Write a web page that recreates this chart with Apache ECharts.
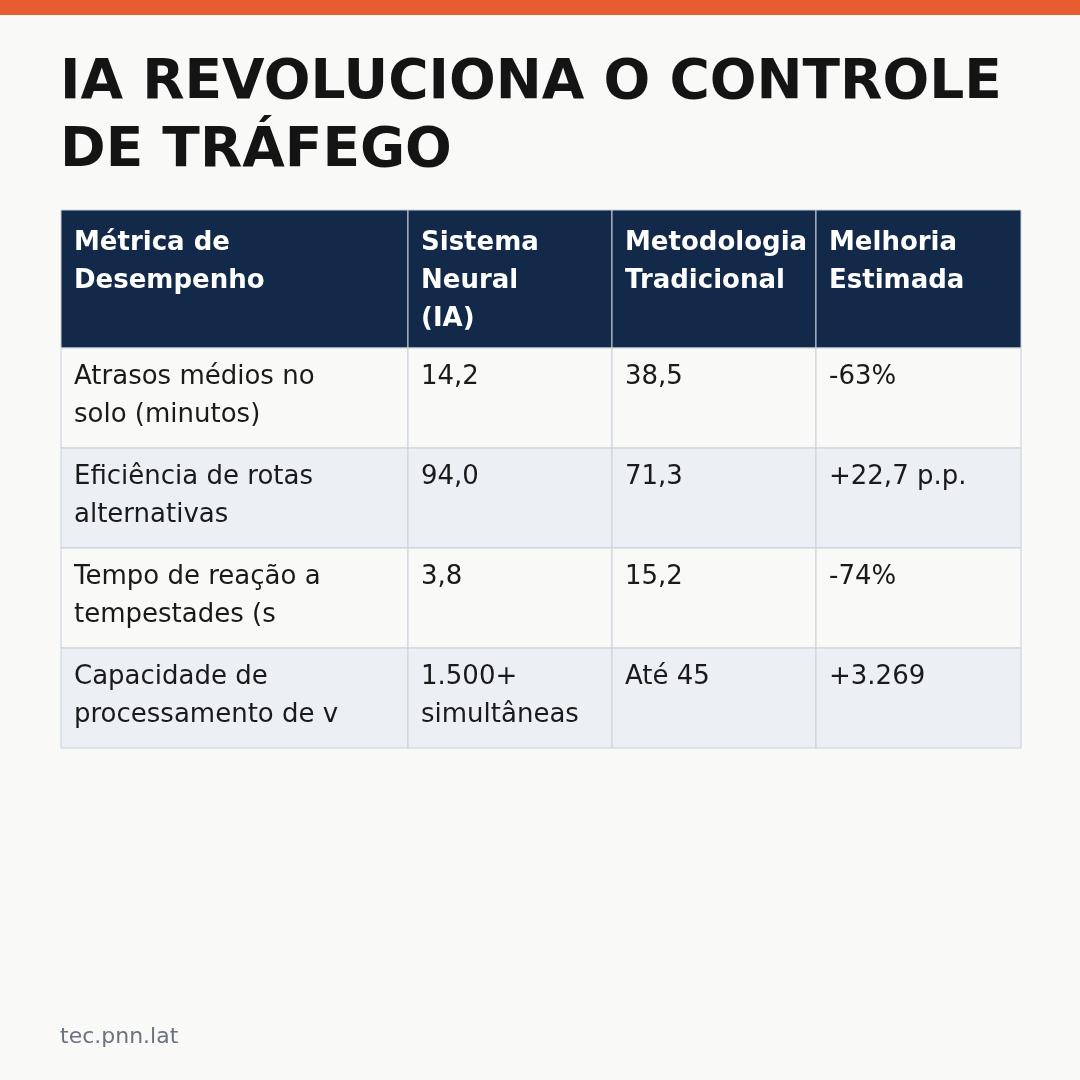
<!DOCTYPE html>
<html><head><meta charset="utf-8">
<script src="https://cdn.jsdelivr.net/npm/echarts@6/dist/echarts.min.js"></script>
<style>html,body{margin:0;padding:0;background:#F9F9F7}#c{width:1080px;height:1080px}</style>
</head><body><div id="c"></div>
<script>
const titleLines = ["IA REVOLUCIONA O CONTROLE", "DE TRÁFEGO"];
const headers = ["Métrica de\nDesempenho", "Sistema\nNeural\n(IA)", "Metodologia\nTradicional", "Melhoria\nEstimada"];
const metrics = ["Atrasos médios no\nsolo (minutos)", "Eficiência de rotas\nalternativas", "Tempo de reação a\ntempestades (s", "Capacidade de\nprocessamento de v"];
const neural = ["14,2", "94,0", "3,8", "1.500+\nsimultâneas"];
const traditional = ["38,5", "71,3", "15,2", "Até 45"];
const improvement = ["-63%", "+22,7 p.p.", "-74%", "+3.269"];
const footer = "tec.pnn.lat";

const colX = [61, 408, 612, 816, 1021];
const headTop = 210, headH = 138, rowH = 100;
const font = "DejaVu Sans";
const g = [];
g.push({type:'rect', shape:{x:0,y:0,width:1080,height:15}, style:{fill:'#E85D2F'}});
titleLines.forEach((t,i)=>g.push({type:'text', x:60, y:56+i*68, style:{text:t, fill:'#141414', font:`bold 55px "${font}"`}}));
for(let c=0;c<4;c++){
  g.push({type:'rect', shape:{x:colX[c],y:headTop,width:colX[c+1]-colX[c],height:headH}, style:{fill:'#12294A', stroke:'#C8D0DA', lineWidth:1}});
}
const rows = metrics.map((m,i)=>[m, neural[i], traditional[i], improvement[i]]);
rows.forEach((r,i)=>{
  const y = headTop+headH+i*rowH;
  for(let c=0;c<4;c++){
    g.push({type:'rect', shape:{x:colX[c],y:y,width:colX[c+1]-colX[c],height:rowH}, style:{fill: i%2? '#ECF0F4':'#F9F9F7', stroke:'#C8D0DA', lineWidth:1}});
  }
});
for(let c=0;c<4;c++){
  g.push({type:'text', x:colX[c]+13, y:headTop+14, z:10, style:{text:headers[c], fill:'#FFFFFF', font:`bold 26px "${font}"`, lineHeight:38}});
}
rows.forEach((r,i)=>{
  const y = headTop+headH+i*rowH;
  for(let c=0;c<4;c++){
    g.push({type:'text', x:colX[c]+13, y:y+10, z:10, style:{text:r[c], fill:'#1A1A1A', font:`26px "${font}"`, lineHeight:38}});
  }
});
g.push({type:'text', x:60, y:1026, style:{text:footer, fill:'#6B7280', font:`22px "${font}"`}});
const chart = echarts.init(document.getElementById('c'));
chart.setOption({backgroundColor:'#F9F9F7', animation:false, graphic:g});
</script></body></html>
